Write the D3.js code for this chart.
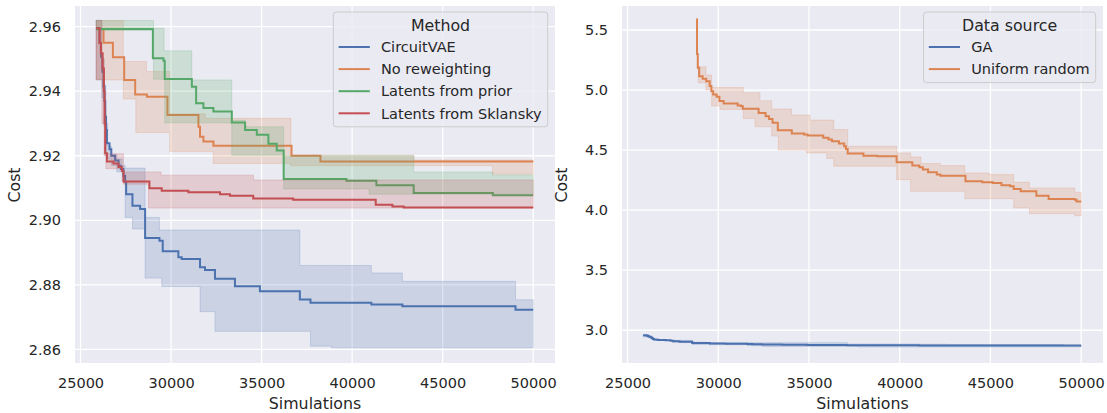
<!DOCTYPE html>
<meta charset="utf-8">
<style>

body {
  margin: 0;
  background: #fff;
}

text {
  font-family: "DejaVu Sans", sans-serif;
  fill: #262626;
}

.tick text {
  font-size: 14.5px;
}

.axis-label, .legend-title {
  font-size: 15.8px;
}

.legend-item {
  font-size: 14.5px;
}

.plot-bg {
  fill: #eaeaf2;
}

.grid line {
  stroke: #fff;
  stroke-width: 1.3;
}

.mean-line {
  fill: none;
  stroke-width: 2;
}

.legend-box {
  fill: #eaeaf2;
  fill-opacity: 0.8;
  stroke: #cccccc;
  stroke-width: 1;
}

</style>
<body>
<script src="https://cdn.jsdelivr.net/npm/d3@7/dist/d3.min.js"></script>
<script>

// ---- data ----

var xTicks = [25000, 30000, 35000, 40000, 45000, 50000];
var costTicksMethod = [2.86, 2.88, 2.90, 2.92, 2.94, 2.96];
var costTicksSource = [3.0, 3.5, 4.0, 4.5, 5.0, 5.5];

var methodNames = ["CircuitVAE", "No reweighting", "Latents from prior", "Latents from Sklansky"];
var sourceNames = ["GA", "Uniform random"];

// step series: [simulations, cost], held until the next point
var circuitVaeMean = [
  [25860, 2.9595], [26050, 2.9549], [26130, 2.9507], [26200, 2.9460], [26270, 2.9414],
  [26320, 2.9370], [26363, 2.9321], [26410, 2.9280], [26457, 2.9239], [26600, 2.9220],
  [26700, 2.9200], [26910, 2.9185], [27100, 2.9169], [27225, 2.9159], [27370, 2.9138],
  [27464, 2.9118], [27519, 2.9081], [27868, 2.9045], [28290, 2.9035], [28566, 2.8945],
  [29357, 2.8937], [29540, 2.8904], [30404, 2.8886], [30588, 2.8880], [31600, 2.8855],
  [31875, 2.8846], [32426, 2.8819], [33529, 2.8796], [34908, 2.8780], [37113, 2.8755],
  [37701, 2.8745], [41065, 2.8739], [42774, 2.8734], [49024, 2.8723], [50000, 2.8723]
];
// [simulations, lower, upper]
var circuitVaeBand = [
  [25860, 2.9435, 2.9620], [26180, 2.9380, 2.9500], [26300, 2.9290, 2.9420],
  [26400, 2.9200, 2.9300], [26500, 2.9190, 2.9230], [26700, 2.9170, 2.9205],
  [27000, 2.9150, 2.9190], [27300, 2.9120, 2.9170], [27464, 2.9009, 2.9162],
  [27870, 2.8973, 2.9162], [28566, 2.8821, 2.9009], [29357, 2.8821, 2.8970],
  [29485, 2.8795, 2.8970], [31600, 2.8717, 2.8970], [32426, 2.8656, 2.8970],
  [37113, 2.8656, 2.8860], [37701, 2.8610, 2.8860], [38860, 2.8605, 2.8860],
  [41065, 2.8605, 2.8837], [42774, 2.8605, 2.8811], [49024, 2.8605, 2.8754],
  [50000, 2.8605, 2.8754]
];

var noReweightMean = [
  [25866, 2.9593], [26270, 2.9550], [26788, 2.9505], [27412, 2.9435], [28019, 2.9390],
  [28665, 2.9383], [29800, 2.9326], [31512, 2.9290], [31600, 2.9259], [31788, 2.9244],
  [32340, 2.9231], [36654, 2.9200], [38250, 2.9182], [50000, 2.9182]
];
var noReweightBand = [
  [25866, 2.9435, 2.9619], [27364, 2.9376, 2.9492], [28054, 2.9272, 2.9492],
  [28645, 2.9272, 2.9461], [29925, 2.9213, 2.9330], [31895, 2.9213, 2.9316],
  [32328, 2.9176, 2.9316], [36600, 2.9169, 2.9316], [36623, 2.9169, 2.9202],
  [43420, 2.9169, 2.9187], [47753, 2.9143, 2.9187], [50000, 2.9143, 2.9187]
];

var priorMean = [
  [25866, 2.9593], [28996, 2.9502], [29581, 2.9494], [29650, 2.9438], [31148, 2.9414],
  [31385, 2.9363], [31788, 2.9348], [32340, 2.9337], [33355, 2.9303], [34089, 2.9280],
  [34735, 2.9265], [35375, 2.9237], [35838, 2.9216], [36220, 2.9128], [39686, 2.9123],
  [41340, 2.9109], [43400, 2.9085], [47773, 2.9078], [50000, 2.9078]
];
var priorBand = [
  [25866, 2.9588, 2.9619], [29033, 2.9437, 2.9595], [29614, 2.9437, 2.9525],
  [29650, 2.9302, 2.9525], [31148, 2.9302, 2.9435], [33355, 2.9202, 2.9310],
  [34089, 2.9202, 2.9290], [36220, 2.9097, 2.9200], [40937, 2.9081, 2.9200],
  [43400, 2.9081, 2.9150], [47773, 2.9081, 2.9140], [50000, 2.9081, 2.9140]
];

var sklanskyMean = [
  [25866, 2.9595], [26049, 2.9549], [26126, 2.9518], [26220, 2.9470], [26290, 2.9400],
  [26330, 2.9300], [26363, 2.9208], [26457, 2.9182], [26820, 2.9176], [27097, 2.9165],
  [27284, 2.9153], [27373, 2.9120], [28805, 2.9099], [29485, 2.9092], [30956, 2.9087],
  [32702, 2.9081], [33253, 2.9076], [34540, 2.9068], [36745, 2.9064], [41304, 2.9048],
  [42223, 2.9043], [42848, 2.9040], [50000, 2.9040]
];
var sklanskyBand = [
  [25866, 2.9437, 2.9619], [26180, 2.9300, 2.9500], [26300, 2.9200, 2.9350],
  [26400, 2.9160, 2.9206], [27373, 2.9112, 2.9150], [28753, 2.9038, 2.9150],
  [29449, 2.9038, 2.9140], [34555, 2.9038, 2.9125], [50000, 2.9038, 2.9125]
];

// the GA curve on the right is the CircuitVAE run
var gaMean = circuitVaeMean;
var gaBand = circuitVaeBand;

var uniformMean = [
  [28794, 5.589], [28830, 5.300], [28871, 5.186], [28948, 5.116], [29141, 5.094],
  [29334, 5.074], [29526, 5.033], [29622, 4.991], [29719, 4.963], [29911, 4.944],
  [30065, 4.908], [30297, 4.888], [31067, 4.871], [31260, 4.866], [31356, 4.844],
  [32223, 4.810], [32608, 4.783], [32800, 4.760], [32993, 4.727], [33282, 4.666],
  [34052, 4.638], [34726, 4.630], [34919, 4.621], [35786, 4.602], [36075, 4.588],
  [36267, 4.574], [36652, 4.555], [36941, 4.532], [37038, 4.510], [37134, 4.471],
  [38001, 4.454], [38771, 4.449], [39830, 4.399], [40697, 4.371], [41082, 4.357],
  [41275, 4.338], [41564, 4.315], [42045, 4.296], [42238, 4.287], [43624, 4.240],
  [44549, 4.232], [45126, 4.226], [45608, 4.207], [46089, 4.199], [46282, 4.176],
  [46668, 4.157], [47534, 4.121], [48208, 4.093], [49653, 4.087], [49749, 4.073],
  [50000, 4.073]
];
var uniformBand = [
  [28898, 5.060, 5.194], [29322, 5.000, 5.125], [29636, 4.867, 5.022],
  [30094, 4.839, 5.022], [31378, 4.764, 4.978], [32023, 4.694, 4.978],
  [32299, 4.694, 4.911], [32944, 4.617, 4.842], [33308, 4.500, 4.842],
  [34046, 4.500, 4.792], [34873, 4.477, 4.792], [35055, 4.477, 4.750],
  [35976, 4.431, 4.750], [36364, 4.365, 4.671], [37134, 4.365, 4.532],
  [39830, 4.254, 4.477], [40601, 4.157, 4.443], [41178, 4.157, 4.388],
  [42238, 4.157, 4.371], [43586, 4.096, 4.310], [44934, 4.096, 4.296],
  [46282, 4.018, 4.232], [47149, 3.970, 4.185], [49653, 3.954, 4.148],
  [50000, 3.954, 4.148]
];

// ---- layout ----

var width = 1107,
    height = 413;
var plotTop = 6,
    plotBottom = 363;
var xDomain = [24695, 51205];
var palette = ["#4c72b0", "#dd8452", "#55a868", "#c44e52"];

var panels = [
  {left: 75, right: 555, yDomain: [2.8558, 2.9664], yTicks: costTicksMethod, yFormat: ".2f",
   legendTitle: "Method", names: methodNames,
   means: [circuitVaeMean, noReweightMean, priorMean, sklanskyMean],
   bands: [circuitVaeBand, noReweightBand, priorBand, sklanskyBand]},
  {left: 622, right: 1103, yDomain: [2.7275, 5.7], yTicks: costTicksSource, yFormat: ".1f",
   legendTitle: "Data source", names: sourceNames,
   means: [gaMean, uniformMean],
   bands: [gaBand, uniformBand]}
];

var svg = d3.select("body").append("svg")
    .attr("width", width)
    .attr("height", height);

function drawPanel(p) {
  var x = d3.scaleLinear().domain(xDomain).range([p.left, p.right]);
  var y = d3.scaleLinear().domain(p.yDomain).range([plotBottom, plotTop]);
  var g = svg.append("g");

  g.append("rect").attr("class", "plot-bg")
      .attr("x", p.left).attr("y", plotTop)
      .attr("width", p.right - p.left).attr("height", plotBottom - plotTop);

  var grid = g.append("g").attr("class", "grid");
  grid.selectAll("line.v").data(xTicks).enter().append("line").attr("class", "v")
      .attr("x1", x).attr("x2", x).attr("y1", plotTop).attr("y2", plotBottom);
  grid.selectAll("line.h").data(p.yTicks).enter().append("line").attr("class", "h")
      .attr("y1", y).attr("y2", y).attr("x1", p.left).attr("x2", p.right);

  var line = d3.line().curve(d3.curveStepAfter)
      .x(function(d) { return x(d[0]); })
      .y(function(d) { return y(d[1]); });
  var area = d3.area().curve(d3.curveStepAfter)
      .x(function(d) { return x(d[0]); })
      .y0(function(d) { return y(d[1]); })
      .y1(function(d) { return y(d[2]); });

  // seaborn draws each hue's line, then its band
  p.means.forEach(function(m, i) {
    g.append("path").datum(m).attr("class", "mean-line")
        .attr("stroke", palette[i]).attr("d", line);
    g.append("path").datum(p.bands[i])
        .attr("fill", palette[i]).attr("fill-opacity", 0.2)
        .attr("stroke", palette[i]).attr("stroke-opacity", 0.2)
        .attr("d", area);
  });

  g.append("g").attr("transform", "translate(0," + plotBottom + ")")
      .call(d3.axisBottom(x).tickValues(xTicks).tickFormat(d3.format("d"))
        .tickSize(0).tickPadding(14.5))
      .call(function(a) { a.select(".domain").remove(); });

  g.append("g").attr("transform", "translate(" + p.left + ",0)")
      .call(d3.axisLeft(y).tickValues(p.yTicks).tickFormat(d3.format(p.yFormat))
        .tickSize(0).tickPadding(14))
      .call(function(a) { a.select(".domain").remove(); });

  g.append("text").attr("class", "axis-label")
      .attr("x", (p.left + p.right) / 2).attr("y", 408.7)
      .attr("text-anchor", "middle").text("Simulations");

  g.append("text").attr("class", "axis-label")
      .attr("transform", "translate(" + (p.left - 60.5) + ",185) rotate(-90)")
      .attr("dy", "0.35em").attr("text-anchor", "middle").text("Cost");

  // legend
  var lg = g.append("g");
  var box = lg.append("rect").attr("class", "legend-box").attr("rx", 3).attr("ry", 3);
  var title = lg.append("text").attr("class", "legend-title")
      .attr("text-anchor", "middle").attr("y", 30.7).text(p.legendTitle);
  var maxLen = 0;
  var items = p.names.map(function(name, i) {
    var cy = 47 + i * 22.1;
    var h = lg.append("line").attr("y1", cy).attr("y2", cy)
        .attr("stroke", palette[i]).attr("stroke-width", 2);
    var t = lg.append("text").attr("class", "legend-item")
        .attr("y", cy).attr("dy", "0.36em").text(name);
    maxLen = Math.max(maxLen, t.node().getComputedTextLength());
    return {h: h, t: t};
  });
  var boxW = Math.max(47.7 + maxLen + 6, title.node().getComputedTextLength() + 20);
  var boxRight = p.right - 7.3;
  var boxLeft = boxRight - boxW;
  var boxBottom = 47 + (p.names.length - 1) * 22.1 + 13.5;
  box.attr("x", boxLeft).attr("y", 12).attr("width", boxW).attr("height", boxBottom - 12);
  title.attr("x", boxLeft + boxW / 2);
  items.forEach(function(it) {
    it.h.attr("x1", boxLeft + 5.3).attr("x2", boxLeft + 36.5);
    it.t.attr("x", boxLeft + 47.7);
  });
}

panels.forEach(drawPanel);

</script>
